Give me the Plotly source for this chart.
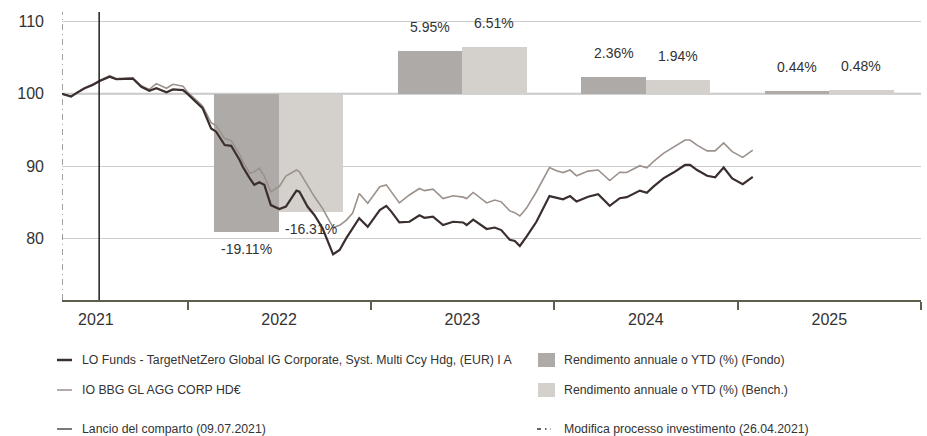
import pandas as pd
import plotly.graph_objects as go

# ---------------- data ----------------
dates = [
    "2021-04-26", "2021-05-14", "2021-05-24", "2021-06-10", "2021-06-26", "2021-07-10",
    "2021-07-30", "2021-08-12", "2021-08-29", "2021-09-14", "2021-10-01", "2021-10-17",
    "2021-10-31", "2021-11-20", "2021-12-03", "2021-12-23", "2021-12-31",
    "2022-01-18", "2022-01-31", "2022-02-17", "2022-02-27", "2022-03-16", "2022-03-29",
    "2022-04-15", "2022-04-21", "2022-05-05", "2022-05-14", "2022-05-24", "2022-06-03",
    "2022-06-16", "2022-07-03", "2022-07-16", "2022-08-06", "2022-08-12", "2022-08-28",
    "2022-09-11", "2022-09-27", "2022-10-18", "2022-10-31", "2022-11-13", "2022-11-26",
    "2022-12-09", "2022-12-26",
    "2023-01-19", "2023-02-01", "2023-02-11", "2023-02-27", "2023-03-19", "2023-04-08",
    "2023-04-18", "2023-05-05", "2023-05-25", "2023-06-14", "2023-07-04", "2023-07-11",
    "2023-07-24", "2023-08-20", "2023-09-05", "2023-09-18", "2023-10-05", "2023-10-15",
    "2023-10-25", "2023-11-07", "2023-11-27", "2023-12-23",
    "2024-01-06", "2024-01-19", "2024-02-02", "2024-02-15", "2024-03-09", "2024-03-29",
    "2024-04-21", "2024-05-11", "2024-05-25", "2024-06-20", "2024-07-04", "2024-07-17",
    "2024-08-06", "2024-08-26", "2024-09-18", "2024-09-28", "2024-10-12", "2024-11-01",
    "2024-11-17", "2024-12-04", "2024-12-21",
    "2025-01-11", "2025-01-31",
]
fund_values = [
    100.0, 99.6, 100.05, 100.75, 101.2, 101.75,
    102.35, 102.0, 102.05, 102.1, 100.95, 100.4,
    100.75, 100.2, 100.6, 100.5, 100.05,
    98.9, 98.0, 95.2, 94.75, 92.9, 92.8,
    90.8, 89.9, 88.3, 87.4, 87.75, 87.4,
    84.6, 84.05, 84.4, 86.6, 86.45, 84.4,
    83.2, 81.4, 77.8, 78.4, 80.0, 81.5,
    82.8, 81.6,
    83.9, 84.5, 83.7, 82.2, 82.3, 83.2,
    82.85, 83.0, 81.85, 82.3, 82.2, 81.85,
    82.6, 81.3, 81.5, 81.15, 79.8, 79.65,
    78.95, 80.2, 82.3, 85.85,
    85.6, 85.4, 85.85, 85.1, 85.75, 86.1,
    84.5, 85.55, 85.7, 86.6, 86.3, 87.15,
    88.3, 89.1, 90.15, 90.15, 89.45, 88.65,
    88.45, 89.8, 88.3,
    87.5, 88.5,
]
bench_values = [
    100.0, 99.65, 100.1, 100.8, 101.3, 101.85,
    102.5, 102.1, 102.15, 102.2, 101.1, 100.6,
    101.4, 100.75, 101.3, 101.05, 100.3,
    99.1, 98.3, 96.0, 95.6, 93.8, 93.5,
    91.6, 90.6, 89.0, 89.2, 89.7, 88.6,
    86.45, 87.2, 88.6, 89.45, 89.2, 87.4,
    85.75, 84.15, 81.5, 81.8, 82.5, 83.5,
    86.2, 84.85,
    87.15, 87.4, 86.45, 84.9, 86.0, 86.9,
    86.6, 86.8, 85.5, 85.9, 85.7, 85.5,
    86.35, 84.9, 85.3, 85.05, 83.8, 83.55,
    83.1, 84.15, 86.45, 89.8,
    89.35, 89.1, 89.45, 88.65, 89.3, 89.45,
    88.0, 89.15, 89.1, 90.05, 89.75, 90.6,
    91.75, 92.6, 93.6, 93.6, 92.9, 92.1,
    92.1, 93.2, 92.0,
    91.2, 92.2,
]

bar_years = ["2022", "2023", "2024", "2025"]
fund_returns = [-19.11, 5.95, 2.36, 0.44]
bench_returns = [-16.31, 6.51, 1.94, 0.48]
bar_base = 100

launch_date = "2021-07-09"
process_change_date = "2021-04-26"

fund_name = "LO Funds - TargetNetZero Global IG Corporate, Syst. Multi Ccy Hdg, (EUR) I A"
bench_name = "IO BBG GL AGG CORP HD€"
fund_bar_name = "Rendimento annuale o YTD (%) (Fondo)"
bench_bar_name = "Rendimento annuale o YTD (%) (Bench.)"
launch_name = "Lancio del comparto (09.07.2021)"
process_name = "Modifica processo investimento (26.04.2021)"

y_ticks = [80, 90, 100, 110]

# ---------------- style ----------------
FONT = "Liberation Sans, Arial, Helvetica, sans-serif"
TXT = "#333333"
FUND_COL = "#3a2e2e"
BENCH_COL = "#9c918b"
FUND_BAR = "#aeaaa8"
BENCH_BAR = "#d4d0cc"
AXIS_COL = "#5f5f4d"
GRID_COL = "#cccccc"

W, H = 927, 436
ML, MR, MT, MB = 62, 6, 12, 136
PW, PH = W - ML - MR, H - MT - MB


def px(x):
    return (x - ML) / PW


def py(y):
    return (H - MB - y) / PH


bar_width = pd.Timedelta(days=128.6)
bar_w_ms = bar_width.total_seconds() * 1000
centers = [pd.Timestamp(f"{y}-07-02") for y in bar_years]

fig = go.Figure()

fig.add_trace(go.Bar(
    x=centers, y=fund_returns, base=bar_base, width=bar_w_ms, offset=-bar_w_ms,
    marker=dict(color=FUND_BAR, line=dict(width=0)), name=fund_bar_name, showlegend=False,
))
fig.add_trace(go.Bar(
    x=centers, y=bench_returns, base=bar_base, width=bar_w_ms, offset=0,
    marker=dict(color=BENCH_BAR, line=dict(width=0)), name=bench_bar_name, showlegend=False,
))
fig.add_trace(go.Scatter(
    x=pd.to_datetime(dates), y=bench_values, mode="lines",
    line=dict(color=BENCH_COL, width=1.6), name=bench_name, showlegend=False,
))
fig.add_trace(go.Scatter(
    x=pd.to_datetime(dates), y=fund_values, mode="lines",
    line=dict(color=FUND_COL, width=2.2), name=fund_name, showlegend=False,
))

annotations = []
for c, fr, br in zip(centers, fund_returns, bench_returns):
    for xc, r in ((c - bar_width / 2, fr), (c + bar_width / 2, br)):
        annotations.append(dict(
            x=xc.strftime("%Y-%m-%d %H:%M"), y=bar_base + r, xref="x", yref="y",
            text=f"{r:.2f}%", showarrow=False, yanchor="middle",
            yshift=24 if r >= 0 else -17,
            font=dict(family=FONT, size=14, color=TXT),
        ))

shapes = []
# baseline at 100
shapes.append(dict(type="line", xref="paper", yref="y", x0=0, x1=1, y0=bar_base, y1=bar_base,
                   line=dict(color="#c4c4c4", width=2), layer="below"))
# launch line & process change line
shapes.append(dict(type="line", xref="x", yref="paper", x0=launch_date, x1=launch_date, y0=0, y1=1,
                   line=dict(color="#1e1e1e", width=1.5)))
shapes.append(dict(type="line", xref="x", yref="paper", x0=process_change_date, x1=process_change_date,
                   y0=0, y1=1, line=dict(color="#444444", width=1, dash="6px,4px,1px,4px")))

# custom legend
leg_font = dict(family=FONT, size=12.3, color=TXT)
rows = [360, 390, 429]
left_items = [(fund_name, FUND_COL, 2.5, "solid"), (bench_name, BENCH_COL, 1.5, "solid"),
              (launch_name, "#222222", 1.2, "solid")]
for yy, (txt, col, lw, dash) in zip(rows, left_items):
    shapes.append(dict(type="line", xref="paper", yref="paper", x0=px(57), x1=px(72),
                       y0=py(yy), y1=py(yy), line=dict(color=col, width=lw, dash=dash)))
    annotations.append(dict(x=px(80), y=py(yy), xref="paper", yref="paper", text=txt,
                            showarrow=False, xanchor="left", yanchor="middle", font=leg_font))
for yy, (txt, col) in zip(rows[:2], [(fund_bar_name, FUND_BAR), (bench_bar_name, BENCH_BAR)]):
    shapes.append(dict(type="rect", xref="paper", yref="paper", x0=px(538), x1=px(555),
                       y0=py(yy - 7), y1=py(yy + 7), line=dict(width=0), fillcolor=col))
    annotations.append(dict(x=px(562), y=py(yy), xref="paper", yref="paper", text=txt,
                            showarrow=False, xanchor="left", yanchor="middle", font=leg_font))
shapes.append(dict(type="line", xref="paper", yref="paper", x0=px(537), x1=px(551),
                   y0=py(rows[2]), y1=py(rows[2]),
                   line=dict(color="#333333", width=1.3, dash="4px,4px,1.5px,4px")))
annotations.append(dict(x=px(562), y=py(rows[2]), xref="paper", yref="paper", text=process_name,
                        showarrow=False, xanchor="left", yanchor="middle", font=leg_font))

fig.update_layout(
    width=W, height=H,
    margin=dict(l=ML, r=MR, t=MT, b=MB, pad=0, autoexpand=False),
    paper_bgcolor="white", plot_bgcolor="white",
    barmode="overlay", bargap=0,
    showlegend=False,
    font=dict(family=FONT, size=16, color=TXT),
    annotations=annotations, shapes=shapes,
    xaxis=dict(
        type="date", range=["2021-04-26", "2026-01-01 02:00"], automargin=False,
        tick0="2021-01-01", dtick="M12", ticklabelmode="period", tickformat="%Y",
        ticks="outside", ticklen=8, tickwidth=1.5, tickcolor=AXIS_COL,
        showline=True, linecolor=AXIS_COL, linewidth=1.5,
        showgrid=False, zeroline=False, ticklabelstandoff=-4,
        tickfont=dict(family=FONT, size=16, color=TXT),
    ),
    yaxis=dict(
        range=[71.48, 111.30], tickvals=y_ticks, automargin=False,
        showgrid=True, gridcolor=GRID_COL, gridwidth=1,
        zeroline=False, showline=False, ticks="", ticklabelstandoff=17,
        tickfont=dict(family=FONT, size=16, color=TXT),
    ),
)

fig.write_html(
    "out.html",
    config={"displayModeBar": False},
    post_script="document.body.style.margin='0';document.body.style.padding='0';"
                "document.body.style.overflow='hidden';",
)
